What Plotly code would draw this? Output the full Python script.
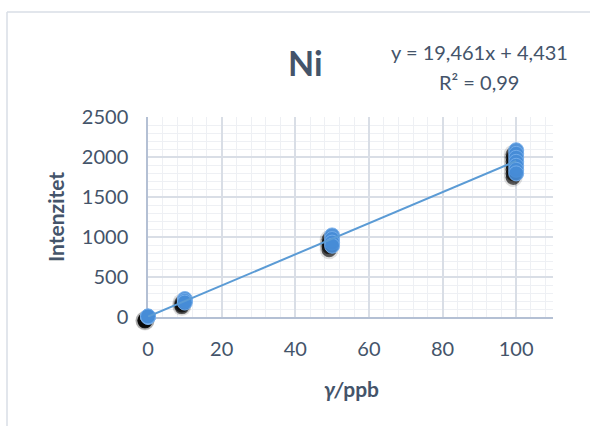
import plotly.graph_objects as go

# ---- data ----
conc = [0, 0, 0, 10, 10, 10, 50, 50, 50, 50, 100, 100, 100, 100, 100, 100, 100]
intensity = [0, 5, 8, 225, 200, 180, 1020, 975, 930, 890, 2085, 2040, 1990, 1940, 1890, 1840, 1795]
slope = 19.461
intercept = 4.431
fit_x = [0, 100]
x_ticks = [0, 20, 40, 60, 80, 100]
y_ticks = [0, 500, 1000, 1500, 2000, 2500]
title_text = "Ni"
eq_text = "y = 19,461x + 4,431"
r2_text = "R² = 0,99"
x_title = "<i>γ/</i>ppb"
y_title = "Intenzitet"

W, H = 590, 426
L, R, T, B = 148, 553, 117, 317  # main plot area in px
SX, SY = 3, 4                      # shadow offset (left, down) in px
PL, PB = L - SX, B + SY            # paper area extended for shadow subplot
FONT = "Lato"
TXT = "#44546A"

def px_x(p):
    return (p - PL) / (R - PL)

def px_y(p):
    return (PB - p) / (PB - T)

fit_y = [slope * v + intercept for v in fit_x]

fig = go.Figure()

# shadow layers (shifted subplot)
fig.add_trace(go.Scatter(x=conc, y=intensity, mode="markers", xaxis="x2", yaxis="y2", cliponaxis=False,
                         marker=dict(size=19, color="rgba(0,0,0,0.12)"), hoverinfo="skip", showlegend=False))
fig.add_trace(go.Scatter(x=conc, y=intensity, mode="markers", xaxis="x2", yaxis="y2", cliponaxis=False,
                         marker=dict(size=15, color="rgba(0,0,0,0.6)"), hoverinfo="skip", showlegend=False))
# main markers
fig.add_trace(go.Scatter(x=conc, y=intensity, mode="markers", xaxis="x3", yaxis="y3", cliponaxis=False,
                         marker=dict(size=15, color="rgba(70,140,215,0.92)",
                                     line=dict(color="rgba(120,175,235,0.9)", width=1)),
                         showlegend=False))
# trendline
fig.add_trace(go.Scatter(x=fit_x, y=fit_y, mode="lines", xaxis="x3", yaxis="y3",
                         line=dict(color="#5B9BD5", width=2), showlegend=False))
# invisible trace to make the main axes active
fig.add_trace(go.Scatter(x=[x_ticks[0]], y=[y_ticks[0]], mode="markers", xaxis="x", yaxis="y",
                         marker=dict(size=1, opacity=0), hoverinfo="skip", showlegend=False))

xr = [0, 110]
yr = [y_ticks[0], y_ticks[-1]]
main_dx = [px_x(L), 1]
main_dy = [px_y(B), 1]
sh_dx = [0, px_x(R - SX)]
sh_dy = [0, px_y(T + SY)]

fig.update_layout(
    width=W, height=H,
    margin=dict(l=PL, r=W - R, t=T, b=H - PB, pad=0, autoexpand=False),
    paper_bgcolor="white", plot_bgcolor="rgba(0,0,0,0)",
    font=dict(family=FONT, color=TXT),
    showlegend=False,
    xaxis=dict(range=xr, domain=main_dx, anchor="y", tickmode="linear", tick0=x_ticks[0],
               dtick=x_ticks[1] - x_ticks[0], showgrid=True,
               gridcolor="#D9DEE6", gridwidth=1.5,
               minor=dict(dtick=4, showgrid=True, gridcolor="#EEF0F4", gridwidth=1),
               showline=True, linecolor="#B4C0D4", linewidth=1.5, zeroline=False,
               ticks="", ticklabelstandoff=13, tickfont=dict(size=20, color=TXT, family=FONT)),
    yaxis=dict(range=yr, domain=main_dy, anchor="x", tickmode="linear", tick0=y_ticks[0],
               dtick=y_ticks[1] - y_ticks[0], showgrid=True,
               gridcolor="#D9DEE6", gridwidth=1.5,
               minor=dict(dtick=100, showgrid=True, gridcolor="#EEF0F4", gridwidth=1),
               showline=True, linecolor="#B4C0D4", linewidth=1.5, zeroline=False,
               ticks="", ticklabelstandoff=14, tickfont=dict(size=20, color=TXT, family=FONT)),
    xaxis2=dict(range=xr, domain=sh_dx, anchor="y2", visible=False),
    yaxis2=dict(range=yr, domain=sh_dy, anchor="x2", visible=False),
    xaxis3=dict(range=xr, domain=main_dx, anchor="y3", visible=False),
    yaxis3=dict(range=yr, domain=main_dy, anchor="x3", visible=False),
)

ann = [
    dict(text="<b>" + title_text + "</b>", x=px_x(305), y=px_y(62), size=34),
    dict(text=eq_text, x=px_x(479), y=px_y(52), size=20),
    dict(text=r2_text, x=px_x(479), y=px_y(82), size=20),
    dict(text="<b>" + x_title + "</b>", x=px_x(351), y=px_y(388), size=21),
]
for a in ann:
    fig.add_annotation(text=a["text"], x=a["x"], y=a["y"], xref="paper", yref="paper",
                       showarrow=False, xanchor="center", yanchor="middle",
                       font=dict(size=a["size"], color=TXT, family=FONT))
fig.add_annotation(text="<b>" + y_title + "</b>", x=px_x(55), y=px_y(217), xref="paper", yref="paper",
                   showarrow=False, textangle=-90, xanchor="center", yanchor="middle",
                   font=dict(size=21, color=TXT, family=FONT))

# outer frame lines (top and left)
fig.add_shape(type="line", xref="paper", yref="paper", x0=px_x(7), x1=px_x(W + 5),
              y0=px_y(12), y1=px_y(12), line=dict(color="#D9DEE6", width=1.5))
fig.add_shape(type="line", xref="paper", yref="paper", x0=px_x(7), x1=px_x(7),
              y0=px_y(12), y1=px_y(H + 5), line=dict(color="#D9DEE6", width=1.5))

fig.write_html("out.html", config={"displayModeBar": False},
               post_script="document.body.style.margin='0';")
